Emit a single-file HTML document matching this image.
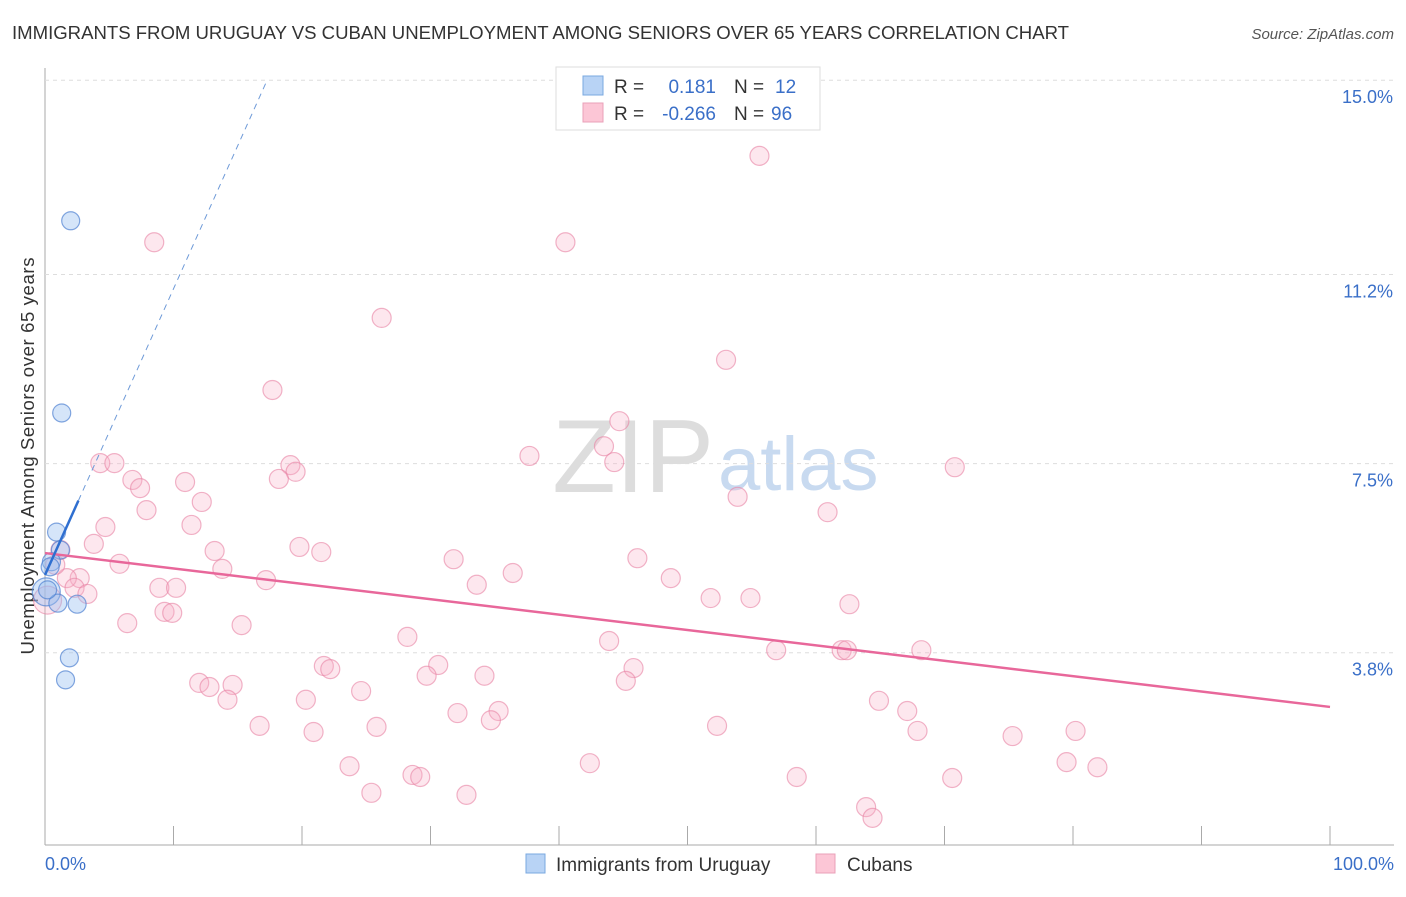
<!DOCTYPE html>
<html><head><meta charset="utf-8"><style>
body{margin:0;background:#fff;font-family:"Liberation Sans",sans-serif;}
svg text{font-family:"Liberation Sans",sans-serif;}
</style></head><body>
<svg id="c" width="1406" height="892">
<text x="12" y="39" font-size="18.6" fill="#333" textLength="1057">IMMIGRANTS FROM URUGUAY VS CUBAN UNEMPLOYMENT AMONG SENIORS OVER 65 YEARS CORRELATION CHART</text>
<text x="1394" y="39" font-size="15" fill="#555" text-anchor="end" font-style="italic">Source: ZipAtlas.com</text>
<text x="714" y="492" font-size="104" fill="#ddd" text-anchor="end" font-family="Liberation Serif">ZIP</text>
<text x="718" y="490" font-size="76" fill="#c8daf0">atlas</text>
<text transform="translate(34,456) rotate(-90)" font-size="18.6" fill="#333" text-anchor="middle" textLength="397">Unemployment Among Seniors over 65 years</text>
<g id="grid"></g><g id="pts"></g><g id="lines"></g>
<g>
<rect x="556" y="67" width="264" height="63" fill="#fff" stroke="#ddd"/>
<rect x="583" y="76" width="20" height="19" fill="#b8d3f5" stroke="#7aa8e0"/>
<rect x="583" y="103" width="20" height="19" fill="#fcc6d6" stroke="#eaa0b8"/>
<text x="614" y="93" font-size="19" fill="#333">R =</text><text x="716" y="93" font-size="19" fill="#3a6fc8" text-anchor="end">0.181</text>
<text x="734" y="93" font-size="19" fill="#333">N =</text><text x="775" y="93" font-size="19" fill="#3a6fc8">12</text>
<text x="614" y="120" font-size="19" fill="#333">R =</text><text x="716" y="120" font-size="19" fill="#3a6fc8" text-anchor="end">-0.266</text>
<text x="734" y="120" font-size="19" fill="#333">N =</text><text x="771" y="120" font-size="19" fill="#3a6fc8">96</text>
</g>
<g>
<rect x="526" y="854" width="19" height="19" fill="#b8d3f5" stroke="#7aa8e0"/>
<text x="556" y="871" font-size="19" fill="#333">Immigrants from Uruguay</text>
<rect x="816" y="854" width="19" height="19" fill="#fcc6d6" stroke="#eaa0b8"/>
<text x="847" y="871" font-size="19" fill="#333">Cubans</text>
</g>
<text x="45" y="870" font-size="18" fill="#3a6fc8">0.0%</text>
<text x="1394" y="870" font-size="18" fill="#3a6fc8" text-anchor="end">100.0%</text>
</svg>
<script>
const yTicks=[3.8,7.5,11.2,15.0];
const yTickLabels=["3.8%","7.5%","11.2%","15.0%"];
const xTicks=[0,10,20,30,40,50,60,70,80,90,100];
const cubanX=[8.5,40.5,55.6,26.2,53.0,17.7,44.7,43.5,44.3,37.7,70.8,4.3,5.4,6.8,7.4,10.9,19.1,19.5,18.2,12.2,7.9,53.9,60.9,4.7,11.4,3.8,13.2,19.8,21.5,31.8,46.1,5.8,13.8,36.4,48.7,17.2,2.7,1.7,8.9,10.2,33.6,2.3,3.3,51.8,54.9,62.6,9.3,9.9,6.4,15.3,28.2,43.9,56.9,62.0,62.4,68.2,21.7,22.2,30.6,45.8,29.7,34.2,45.2,12.0,12.8,14.6,24.6,14.2,20.3,64.9,32.1,35.3,34.7,67.1,16.7,25.8,52.3,20.9,67.9,80.2,75.3,23.7,42.4,79.5,81.9,28.6,29.2,58.5,70.6,25.4,32.8,63.9,64.4,0.2,0.8,1.2];
const cubanY=[11.83,11.83,13.52,10.35,9.53,8.94,8.33,7.84,7.53,7.65,7.43,7.51,7.51,7.18,7.02,7.14,7.47,7.34,7.2,6.75,6.59,6.85,6.55,6.26,6.3,5.93,5.79,5.87,5.77,5.63,5.65,5.54,5.44,5.36,5.26,5.22,5.26,5.26,5.07,5.07,5.13,5.07,4.95,4.87,4.87,4.75,4.6,4.58,4.38,4.34,4.11,4.03,3.85,3.85,3.85,3.85,3.54,3.48,3.56,3.5,3.35,3.35,3.25,3.21,3.13,3.17,3.05,2.88,2.88,2.86,2.62,2.66,2.48,2.66,2.37,2.35,2.37,2.25,2.27,2.27,2.17,1.58,1.64,1.66,1.56,1.41,1.37,1.37,1.35,1.06,1.02,0.78,0.57,4.83,5.52,5.81];
const uruX=[2.0,1.3,0.9,1.2,0.5,0.4,0.1,1.0,2.5,1.9,1.6,0.2];
const uruY=[12.25,8.49,6.16,5.81,5.58,5.48,4.99,4.77,4.75,3.7,3.27,5.03];
const cubanTrend=[5.75,2.74];
const uruTrend=[5.32,0.56];
const X=v=>45+v*12.85, Y=v=>847-v*51.12;
const NS="http://www.w3.org/2000/svg";
function mk(t,a,p){const e=document.createElementNS(NS,t);for(const k in a)e.setAttribute(k,a[k]);p.appendChild(e);return e;}
const g=document.getElementById('grid');
let ax=mk('line',{x1:45,y1:68,x2:45,y2:845,stroke:'#aaa'},g);


let bx=mk('line',{x1:45,y1:845,x2:1394,y2:845,stroke:'#aaa'},g);


yTicks.forEach((t,i)=>{
 const l=mk('line',{x1:45,x2:1394,y1:Y(t),y2:Y(t),stroke:'#ddd','stroke-dasharray':'4,4'},g);
 
 
 const tx=mk('text',{x:1393,y:Y(t)+23,'font-size':18,fill:'#3a6fc8','text-anchor':'end'},g);
 tx.textContent=yTickLabels[i];
 
 
});
xTicks.forEach(t=>{
 const l=mk('line',{x1:X(t),x2:X(t),y1:826,y2:845,stroke:'#aaa'},g);
 
 
});
const p=document.getElementById('pts');
cubanX.forEach((v,i)=>{
 const big=i===93;
 const c=mk('circle',{cx:X(cubanX[i]),cy:Y(cubanY[i]),r:big?14:9.5,fill:'rgba(248,176,200,0.3)',stroke:'rgba(232,130,164,0.6)','stroke-width':1.2},p);
 
 
});
uruX.forEach((v,i)=>{
 const c=mk('circle',{cx:X(uruX[i]),cy:Y(uruY[i]),r:i===6?14:9,fill:'rgba(150,190,240,0.4)',stroke:'rgba(80,130,210,0.7)','stroke-width':1.2},p);
 
 
});
const L=document.getElementById('lines');
let pl=mk('line',{x1:X(0),y1:Y(cubanTrend[0]),x2:X(100),y2:Y(cubanTrend[1]),stroke:'#e8679a','stroke-width':2.5},L);


let bs=mk('line',{x1:X(0),y1:Y(uruTrend[0]),x2:X(2.6),y2:Y(uruTrend[0]+uruTrend[1]*2.6),stroke:'#2f6fd0','stroke-width':2.5},L);


const xe=(15.0-uruTrend[0])/uruTrend[1];
let bd=mk('line',{x1:X(2.6),y1:Y(uruTrend[0]+uruTrend[1]*2.6),x2:X(xe),y2:Y(15.0),stroke:'#6e9ad8','stroke-width':1,'stroke-dasharray':'6,5'},L);


</script>
</body></html>
